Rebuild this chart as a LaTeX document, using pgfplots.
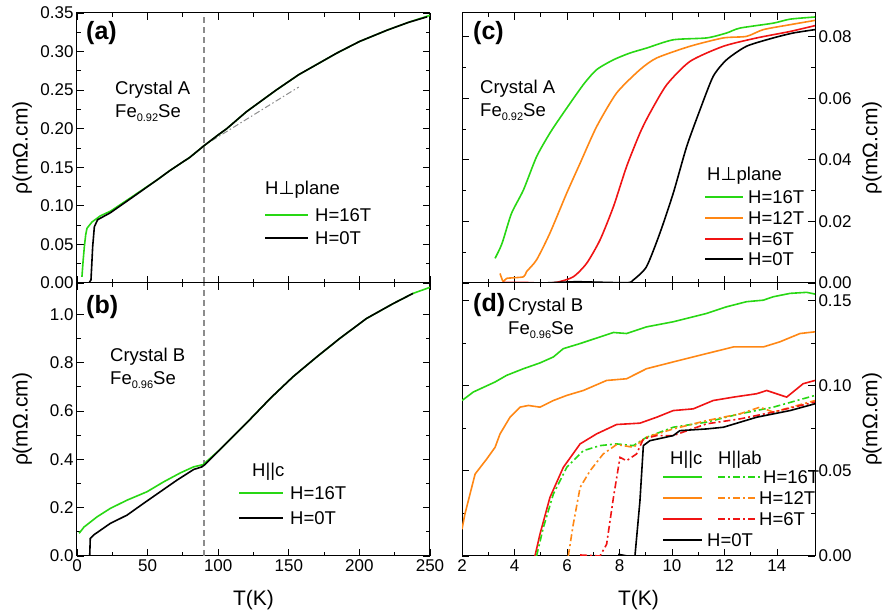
\documentclass[border=0pt]{standalone}
\usepackage{fontspec}
\setmainfont{Liberation Sans}
\newfontfamily\dejavu{DejaVu Sans}
\usepackage{pgfplots}
\pgfplotsset{compat=1.18}

\definecolor{cgreen}{RGB}{40,215,20}
\definecolor{corange}{RGB}{255,135,20}
\definecolor{cred}{RGB}{240,20,20}
\definecolor{cgray}{RGB}{140,140,140}
\newcommand\fs[1]{\fontsize{#1}{#1}\selectfont}
\newcommand\sub[1]{\raisebox{-0.45ex}{\fs{11}#1}}

\tikzset{
  curve/.style={line width=1.6pt},
  dd/.style={line width=1.6pt, dash pattern=on 7pt off 3pt on 2pt off 3pt},
}
\pgfplotsset{
  panel/.style={
    scale only axis, width=353pt, anchor=south west,
    tick align=inside, tick pos=both, xticklabel pos=lower,
    minor tick num=1, major tick length=7pt, minor tick length=4pt,
    every tick/.append style={black, line width=0.9pt},
    axis line style={line width=1pt},
    tick label style={font=\fs{17}},
    label style={font=\fs{21}},
    /pgf/number format/assume math mode=true,
    scaled ticks=false, no markers,
    ylabel={ρ(mΩ.cm)},
  },
  leftlab/.style={ylabel style={at={(axis description cs:-0.155,0.5)}, anchor=center}},
  rightlab/.style={yticklabel pos=right, ylabel style={at={(axis description cs:1.161,0.5)}, anchor=center}},
  xlab/.style={xlabel={T(K)}, xlabel style={at={(axis description cs:0.5,-0.161)}, anchor=center}},
  prec/.style={yticklabel style={/pgf/number format/fixed, /pgf/number format/fixed zerofill, /pgf/number format/precision=#1}},
}

\begin{document}
\begin{tikzpicture}
\useasboundingbox (0,0) rectangle (892pt,615pt);

% (a)
\begin{axis}[panel, leftlab, prec=2, at={(77pt,332pt)}, height=270pt,
  xmin=0, xmax=250, ymin=0, ymax=0.35,
  xtick={0,50,100,150,200,250}, xticklabels={},
  ytick={0,0.05,0.1,0.15,0.2,0.25,0.3,0.35}]
\addplot[cgray, line width=1.2pt, dash pattern=on 6pt off 4pt] coordinates {(90,0) (90,0.35)};
\addplot[cgray, line width=1pt, dash pattern=on 6pt off 2.5pt on 1.5pt off 2.5pt] coordinates {(88,0.176) (157,0.254)};
\addplot[cgreen, curve] coordinates {
 (3.5,0.008) (4.3,0.028) (5.2,0.047) (6.2,0.063) (7.1,0.071) (10.6,0.079)
 (16.5,0.087) (23.6,0.093) (40,0.113) (57,0.134) (66,0.146) (80,0.163)
 (90,0.178) (100,0.192) (106,0.2) (120,0.222) (141,0.25) (157,0.27)
 (184,0.298) (200,0.313) (220,0.328) (235,0.338) (250,0.347)};
\addplot[black, curve] coordinates {
 (2,0) (8.5,0) (9.9,0.004) (10.5,0.025) (11.1,0.047) (12.3,0.073) (14.6,0.082)
 (23.6,0.091) (40,0.112) (57,0.134) (66,0.146) (80,0.163) (90,0.178)
 (100,0.192) (106,0.2) (120,0.222) (141,0.25) (157,0.27) (184,0.298)
 (200,0.313) (220,0.328) (235,0.338) (248,0.345)};
\end{axis}

% (b)
\begin{axis}[panel, leftlab, xlab, prec=1, at={(77pt,59pt)}, height=273pt,
  xmin=0, xmax=250, ymin=0, ymax=1.13,
  xtick={0,50,100,150,200,250},
  ytick={0,0.2,0.4,0.6,0.8,1.0}]
\addplot[cgray, line width=1.2pt, dash pattern=on 6pt off 4pt] coordinates {(90,0) (90,1.13)};
\addplot[cgreen, curve] coordinates {
 (1.5,0.094) (5,0.12) (14.2,0.162) (23.6,0.197) (35.4,0.231) (49.6,0.266)
 (61.4,0.307) (73.2,0.344) (82.6,0.369) (89.2,0.378) (101,0.439) (120,0.55)
 (137,0.653) (153,0.742) (170,0.825) (186,0.9) (205,0.983) (224,1.045)
 (238,1.087) (250,1.112)};
\addplot[black, curve] coordinates {
 (6,0) (9,0) (9.4,0.073) (11.8,0.087) (23.6,0.135) (35.4,0.169) (47.2,0.218)
 (59,0.266) (70.8,0.314) (82.6,0.358) (88.5,0.369) (90.5,0.378) (101,0.439)
 (120,0.55) (137,0.653) (153,0.742) (170,0.825) (186,0.9) (205,0.983)
 (224,1.045) (238,1.087)};
\end{axis}

% (c)
\begin{axis}[panel, rightlab, prec=2, at={(462pt,332pt)}, height=270pt,
  xmin=2, xmax=15.45, ymin=0, ymax=0.0877,
  xtick={2,4,6,8,10,12,14}, xticklabels={},
  ytick={0,0.02,0.04,0.06,0.08}]
\addplot[cgreen, curve, smooth, tension=0.4] coordinates {
 (3.26,0.008) (3.45,0.0113) (3.57,0.014) (3.89,0.0227) (4.34,0.0302)
 (4.84,0.041) (5.35,0.0487) (5.86,0.0552) (6.62,0.0644) (7.13,0.0693)
 (7.77,0.0725) (8.4,0.0747) (9.03,0.0763) (10.05,0.079) (11.32,0.0796)
 (12.08,0.0812) (12.59,0.0828) (13.86,0.0844) (14.5,0.0857) (15.45,0.0864)};
\addplot[corange, curve, smooth, tension=0.4] coordinates {
 (3.45,0.0031) (3.57,0.0004) (3.7,0.0015) (4.34,0.002) (4.46,0.0037)
 (4.84,0.0075) (5.35,0.0162) (5.99,0.0292) (6.5,0.0389) (7.13,0.0508)
 (7.89,0.0617) (8.78,0.0693) (9.42,0.0731) (10.69,0.0769) (11.96,0.0796)
 (12.84,0.0801) (13.48,0.0823) (14.5,0.0839) (15.45,0.0853)};
\addplot[cred, curve, smooth, tension=0.4] coordinates {
 (3.57,0.0002) (4.34,0.0002) (4.97,0) (5.6,0.0002) (6.24,0.002) (6.75,0.0064)
 (7.26,0.014) (7.77,0.0248) (8.27,0.0378) (8.78,0.0487) (9.16,0.0552)
 (9.8,0.0644) (10.69,0.072) (11.96,0.0769) (13.23,0.0796) (14.5,0.0817)
 (15.45,0.0836)};
\addplot[black, curve, smooth, tension=0.4] coordinates {
 (5.1,0) (6.3,0.0004) (7.0,0.0003) (8.3,0.0001) (8.53,0.001) (9.03,0.0053)
 (9.54,0.0162) (10.05,0.0292) (10.56,0.0443) (11.07,0.0563) (11.57,0.0671)
 (12.08,0.0725) (12.84,0.0769) (13.86,0.0796) (14.62,0.0812) (15.45,0.0823)};
\end{axis}

% (d)
\begin{axis}[panel, rightlab, xlab, prec=2, at={(462pt,59pt)}, height=273pt,
  xmin=2, xmax=15.45, ymin=0, ymax=0.1605,
  xtick={2,4,6,8,10,12,14},
  ytick={0,0.05,0.1,0.15}]
\addplot[cgreen, curve] coordinates {
 (2,0.0914) (2.43,0.0964) (3.26,0.1023) (3.7,0.1062) (4.34,0.1101)
 (4.97,0.1135) (5.48,0.117) (5.86,0.1219) (6.5,0.1249) (7.26,0.1288)
 (7.77,0.1314) (8.27,0.1308) (9.03,0.1347) (10.05,0.1377) (11.32,0.1426)
 (12.08,0.1465) (12.84,0.1495) (13.48,0.1504) (13.86,0.1524) (14.5,0.1544)
 (15.13,0.155) (15.45,0.154)};
\addplot[corange, curve] coordinates {
 (2,0.0157) (2.11,0.0246) (2.5,0.0482) (2.94,0.057) (3.26,0.0639)
 (3.45,0.0718) (3.83,0.0816) (4.21,0.0875) (4.53,0.0885) (4.97,0.0875)
 (5.48,0.0914) (5.99,0.0944) (6.62,0.0973) (7.51,0.1032) (8.27,0.1042)
 (9.03,0.1101) (10.05,0.1141) (11.32,0.119) (12.34,0.1229) (13.48,0.1229)
 (14.11,0.1259) (14.88,0.1308) (15.45,0.1318)};
\addplot[cred, curve] coordinates {
 (4.78,0) (4.97,0.0128) (5.35,0.0344) (5.86,0.0521) (6.5,0.0659)
 (7.13,0.0718) (7.89,0.0773) (8.78,0.0781) (9.42,0.0816) (10.05,0.0855)
 (10.81,0.0865) (11.57,0.0914) (12.34,0.0934) (13.23,0.0954) (13.61,0.0973)
 (14.37,0.0934) (15.0,0.1013) (15.45,0.1032)};
\addplot[cgreen, dd] coordinates {
 (4.84,0) (5.1,0.0167) (5.48,0.0364) (5.99,0.0521) (6.62,0.0619)
 (7.26,0.0649) (7.89,0.0659) (8.53,0.0649) (9.03,0.0698) (10.05,0.0757)
 (11.32,0.0787) (12.59,0.0836) (13.86,0.0875) (15.45,0.0944)};
\addplot[corange, dd] coordinates {
 (6.05,0) (6.24,0.0187) (6.5,0.0403) (6.88,0.0501) (7.38,0.06)
 (7.89,0.0655) (8.53,0.0639) (9.03,0.0698) (10.05,0.0747) (11.32,0.0796)
 (12.59,0.0836) (13.35,0.0875) (13.86,0.0846) (15.45,0.0914)};
\addplot[cred, dd] coordinates {
 (6.5,0.0006) (7.26,0) (7.51,0.0069) (7.77,0.0344) (8.02,0.058)
 (8.27,0.056) (8.65,0.06) (8.91,0.0688) (9.42,0.0708) (10.05,0.0708)
 (11.32,0.0777) (12.59,0.0806) (13.86,0.0846) (15.45,0.0905)};
\addplot[black, curve] coordinates {
 (7.95,0.001) (8.3,0) (8.59,0) (8.78,0.0324) (8.91,0.0649) (9.16,0.0678)
 (10.05,0.0708) (10.3,0.0737) (11.32,0.0747) (11.96,0.0757) (13.23,0.0816)
 (14.5,0.0855) (15.45,0.0895)};
\end{axis}

% panel texts
\begin{scope}[every node/.style={anchor=west, inner sep=0pt}]
\node[font=\fs{25}\bfseries] at (86pt,582pt) {(a)};
\node[font=\fs{18.5}] at (115pt,525pt) {Crystal A};
\node[font=\fs{18.5}] at (115pt,502pt) {Fe\sub{0.92}Se};
\node[font=\fs{25}\bfseries] at (86pt,308pt) {(b)};
\node[font=\fs{18.5}] at (110pt,258pt) {Crystal B};
\node[font=\fs{18.5}] at (110pt,235pt) {Fe\sub{0.96}Se};
\node[font=\fs{25}\bfseries] at (473pt,582pt) {(c)};
\node[font=\fs{18.5}] at (480pt,526pt) {Crystal A};
\node[font=\fs{18.5}] at (480pt,503pt) {Fe\sub{0.92}Se};
\node[font=\fs{25}\bfseries] at (473pt,310pt) {(d)};
\node[font=\fs{18.5}] at (508pt,308pt) {Crystal B};
\node[font=\fs{18.5}] at (508pt,285pt) {Fe\sub{0.96}Se};

% legend (a)
\node[font=\fs{18.5}] at (265pt,425pt) {H{\dejavu ⊥}plane};
\draw[cgreen, curve] (265pt,400pt) -- (308pt,400pt);
\node[font=\fs{18.5}] at (315pt,400pt) {H=16T};
\draw[black, curve] (265pt,377pt) -- (308pt,377pt);
\node[font=\fs{18.5}] at (315pt,377pt) {H=0T};

% legend (b)
\node[font=\fs{18.5}] at (252pt,143pt) {H||c};
\draw[cgreen, curve] (239pt,122pt) -- (283pt,122pt);
\node[font=\fs{18.5}] at (290pt,122pt) {H=16T};
\draw[black, curve] (239pt,97pt) -- (283pt,97pt);
\node[font=\fs{18.5}] at (290pt,97pt) {H=0T};

% legend (c)
\node[font=\fs{18.5}] at (707pt,439pt) {H{\dejavu ⊥}plane};
\draw[cgreen, curve] (705pt,418pt) -- (743pt,418pt);
\node[font=\fs{18.5}] at (748pt,418pt) {H=16T};
\draw[corange, curve] (705pt,397pt) -- (743pt,397pt);
\node[font=\fs{18.5}] at (748pt,397pt) {H=12T};
\draw[cred, curve] (705pt,376pt) -- (743pt,376pt);
\node[font=\fs{18.5}] at (748pt,376pt) {H=6T};
\draw[black, curve] (705pt,356pt) -- (743pt,356pt);
\node[font=\fs{18.5}] at (748pt,356pt) {H=0T};

% legend (d)
\node[font=\fs{18.5}] at (670pt,155pt) {H||c};
\node[font=\fs{18.5}] at (718pt,155pt) {H||ab};
\draw[cgreen, curve] (663pt,138pt) -- (702pt,138pt);
\draw[cgreen, dd] (718pt,138pt) -- (760pt,138pt);
\node[font=\fs{18.5}] at (763pt,138pt) {H=16T};
\draw[corange, curve] (663pt,117pt) -- (702pt,117pt);
\draw[corange, dd] (718pt,117pt) -- (756pt,117pt);
\node[font=\fs{18.5}] at (759pt,117pt) {H=12T};
\draw[cred, curve] (663pt,96pt) -- (702pt,96pt);
\draw[cred, dd] (718pt,96pt) -- (756pt,96pt);
\node[font=\fs{18.5}] at (759pt,96pt) {H=6T};
\draw[black, curve] (663pt,75pt) -- (702pt,75pt);
\node[font=\fs{18.5}] at (707pt,75pt) {H=0T};
\end{scope}
\end{tikzpicture}
\end{document}
